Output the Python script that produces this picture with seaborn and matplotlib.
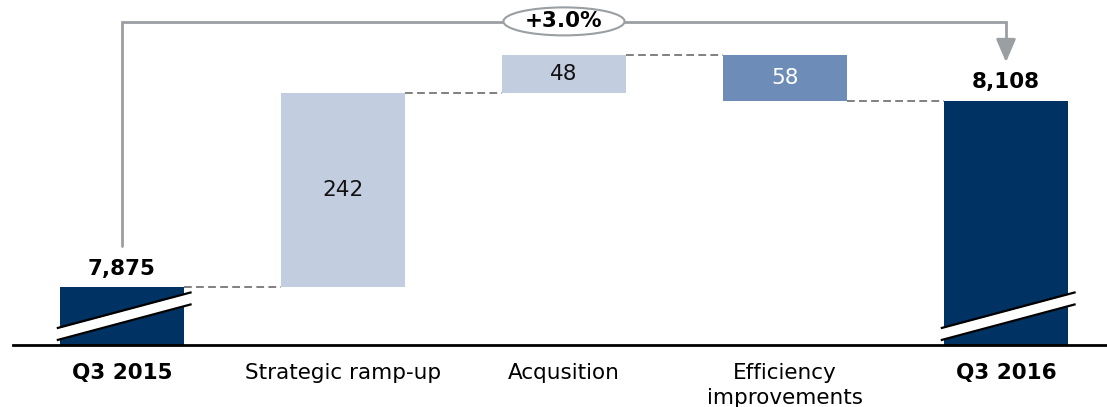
import numpy as np
import pandas as pd
import matplotlib
matplotlib.use("Agg")
import matplotlib.pyplot as plt
from matplotlib.patches import Ellipse
import seaborn as sns

# ---- data -------------------------------------------------------------
categories = ["Q3 2015", "Strategic ramp-up", "Acqusition",
              "Efficiency\nimprovements", "Q3 2016"]
start_value = 7875
deltas = [242, 48, -58]
end_value = 8108
growth_label = "+3.0%"

# ---- styling ----------------------------------------------------------
NAVY = "#003263"
LIGHT = "#c3cde0"
MID = "#6e8cb8"
GREY = "#9a9fa3"
DASH = "#808080"
bar_colors = [NAVY, LIGHT, LIGHT, MID, NAVY]
inner_text_colors = [None, "#111111", "#111111", "white", None]
FS = 15.5

sns.set_theme(style="white")
plt.rcParams["font.family"] = ["DejaVu Sans"]

# ---- waterfall geometry from the data ---------------------------------
bottoms = [0]
heights = [start_value]
running = start_value
for d in deltas:
    bottoms.append(running)
    heights.append(d)
    running += d
bottoms.append(0)
heights.append(end_value)

df = pd.DataFrame({"step": categories, "height": heights})

fig = plt.figure(figsize=(11.07, 4.07), dpi=100)
ax = fig.add_axes([0, 62 / 407, 1, 345 / 407])

bar_w = 0.557
sns.barplot(data=df, x="step", y="height", order=categories,
            bottom=np.array(bottoms, dtype=float), width=bar_w,
            color=NAVY, saturation=1, errorbar=None, linewidth=0, ax=ax)
for patch, c in zip(ax.patches, bar_colors):
    patch.set_facecolor(c)
    patch.set_edgecolor("none")

y_floor = 7802.5
ax.set_ylim(y_floor, 8233.75)
ax.set_xlim(-0.552, 4.457)

# ---- axes cosmetics ---------------------------------------------------
for side in ("left", "right", "top"):
    ax.spines[side].set_visible(False)
ax.spines["bottom"].set_color("black")
ax.spines["bottom"].set_linewidth(2)
ax.spines["bottom"].set_bounds(-0.493, 4.457)
ax.set_yticks([])
ax.set_xlabel("")
ax.set_ylabel("")
ax.tick_params(axis="x", length=0, pad=13)
ax.set_xticks(range(len(categories)))
ax.set_xticklabels(categories, fontsize=FS, color="black")
for lbl in ax.get_xticklabels():
    lbl.set_linespacing(1.3)
for i in (0, len(categories) - 1):
    ax.get_xticklabels()[i].set_fontweight("bold")

# ---- dashed connectors between bars -----------------------------------
levels = []
for i in range(len(categories) - 1):
    if i == 0:
        levels.append(start_value)
    else:
        levels.append(bottoms[i] + heights[i])
for i, lvl in enumerate(levels):
    ax.plot([i + bar_w / 2, i + 1 - bar_w / 2], [lvl, lvl], color=DASH,
            lw=1.4, dashes=(4, 2.2), zorder=1)

# ---- value labels -----------------------------------------------------
for i in (0, len(categories) - 1):
    val = heights[i]
    ax.annotate(f"{val:,}", xy=(i, val), xytext=(0, 6),
                textcoords="offset points", ha="center", va="bottom",
                fontsize=FS, fontweight="bold", color="black")
for i in range(1, len(categories) - 1):
    mid = bottoms[i] + heights[i] / 2
    ax.text(i, mid, f"{abs(heights[i])}", ha="center", va="center",
            fontsize=FS, color=inner_text_colors[i])

# ---- axis-break marks on the end bars ---------------------------------
for i in (0, len(categories) - 1):
    xs = np.array([i - 0.295, i + 0.315])
    upper = y_floor + np.array([21, 66])
    lower = y_floor + np.array([6, 51])
    ax.fill_between(xs, lower, upper, color="white", lw=0, zorder=4)
    ax.plot(xs, upper, color="black", lw=1.6, zorder=5,
            solid_capstyle="butt")
    ax.plot(xs, lower, color="black", lw=1.6, zorder=5,
            solid_capstyle="butt")

# ---- growth bracket ---------------------------------------------------
peak = max(bottoms[i] + heights[i] for i in range(1, len(categories) - 1))
bracket_y = peak + 41
lift = 51
last = len(categories) - 1
ax.plot([0, 0, last, last],
        [start_value + lift, bracket_y, bracket_y, end_value + lift + 20],
        color=GREY, lw=2, zorder=2, solid_joinstyle="miter")
ax.annotate("", xy=(last, end_value + lift - 3),
            xytext=(last, end_value + lift + 25),
            arrowprops=dict(arrowstyle="-|>,head_length=0.7,head_width=0.3",
                            color=GREY, lw=2, mutation_scale=20,
                            shrinkA=0, shrinkB=0), zorder=3)
mid_x = last / 2
ax.add_patch(Ellipse((mid_x, bracket_y + 1), width=0.548, height=35,
                     facecolor="white", edgecolor=GREY, lw=1.5, zorder=3))
ax.text(mid_x, bracket_y + 1, growth_label, ha="center", va="center",
        fontsize=FS, fontweight="bold", color="black", zorder=4)

fig.savefig("out.png", dpi=100)
